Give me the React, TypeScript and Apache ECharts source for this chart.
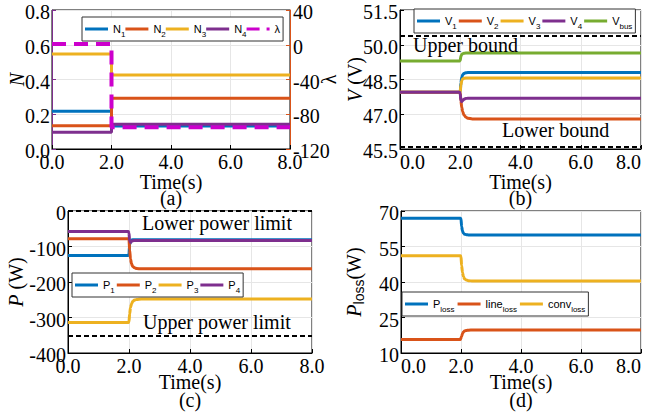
import React, { useEffect, useRef } from "react";
import * as echarts from "echarts";

// ---------- data ----------
// (a) normalized values N and lambda (step at t = 2 s)
const tA = [0, 2, 2, 8];
const n1 = [0.217, 0.217, 0.132, 0.132];
const n2 = [0.134, 0.134, 0.292, 0.292];
const n3 = [0.547, 0.547, 0.426, 0.426];
const n4 = [0.096, 0.096, 0.142, 0.142];
const lam = [1, 1, -95, -95];

// transient time base for (b), (c), (d)
const tT = [0, 1.98, 2.0, 2.02, 2.05, 2.08, 2.12, 2.18, 2.25, 2.4, 2.6, 8];

// (b) voltages
const v1 = [47.95, 47.95, 47.97, 48.35, 48.6, 48.7, 48.76, 48.79, 48.8, 48.8, 48.8, 48.8];
const v2 = [47.95, 47.95, 47.93, 47.6, 47.3, 47.12, 46.98, 46.88, 46.83, 46.8, 46.79, 46.79];
const v3 = [47.95, 47.95, 47.97, 48.25, 48.45, 48.52, 48.55, 48.56, 48.57, 48.57, 48.57, 48.57];
const v4 = [47.95, 47.95, 47.88, 47.6, 47.55, 47.6, 47.65, 47.68, 47.69, 47.69, 47.69, 47.69];
const vbus = [49.3, 49.3, 49.32, 49.5, 49.58, 49.61, 49.63, 49.64, 49.64, 49.64, 49.64, 49.64];
const vBounds = [50.4, 45.6];

// (c) powers
const p1 = [-125, -125, -120, -95, -86, -82, -81, -81, -81, -81, -81, -81];
const p2 = [-78, -78, -80, -110, -135, -148, -156, -160, -162, -163, -163, -163];
const p3 = [-314, -314, -312, -290, -272, -262, -255, -251, -249, -248, -248, -248];
const p4 = [-58, -58, -62, -84, -88, -86, -84, -83, -83, -83, -83, -83];
const pLimits = [0, -350];

// (d) losses
const pLoss = [66.9, 66.9, 66.7, 63.5, 61.5, 60.6, 60.2, 60.0, 59.9, 59.9, 59.9, 59.9];
const lineLoss = [15.7, 15.7, 15.8, 17.0, 18.2, 18.9, 19.3, 19.55, 19.65, 19.7, 19.7, 19.7];
const convLoss = [51.1, 51.1, 50.8, 47.0, 44.0, 42.3, 41.3, 40.8, 40.55, 40.4, 40.4, 40.4];

// axes
const xTicks = { min: 0, max: 8, interval: 2 };
const nAxis = { min: 0, max: 0.8, interval: 0.2 };
const lamAxis = { min: -120, max: 40, interval: 40 };
const vAxis = { base: 45.5, span: 6, interval: 1.5 };
const pAxis = { min: -400, max: 0, interval: 100 };
const lossAxis = { base: 10, span: 60, interval: 15 };

const panelLabels = ["(a)", "(b)", "(c)", "(d)"];
const annotations = ["Upper bound", "Lower bound", "Lower power limit", "Upper power limit"];

// ---------- layout / style ----------
const GRIDS = [
  { left: 52, top: 10, width: 238, height: 139 },
  { left: 400, top: 10, width: 241, height: 139 },
  { left: 68, top: 211, width: 244, height: 142 },
  { left: 401, top: 211, width: 240, height: 142 },
];
const F = '20px "Liberation Serif"';
const FI = 'italic 20px "Liberation Serif"';
const FSUB = '14px "Liberation Sans"';
const sans = "Liberation Sans";

const C = {
  blue: "#0072BD",
  orange: "#D95319",
  yellow: "#EDB120",
  purple: "#7E2F8E",
  green: "#77AC30",
  magenta: "#CC00CC",
};

const legendLabels: Record<string, string> = {
  N1: "{b|N}{s|1}",
  N2: "{b|N}{s|2}",
  N3: "{b|N}{s|3}",
  N4: "{b|N}{s|4}",
  "λ": "{b|λ}",
  V1: "{b|V}{s|1}",
  V2: "{b|V}{s|2}",
  V3: "{b|V}{s|3}",
  V4: "{b|V}{s|4}",
  Vbus: "{b|V}{s|bus}",
  P1: "{b|P}{s|1}",
  P2: "{b|P}{s|2}",
  P3: "{b|P}{s|3}",
  P4: "{b|P}{s|4}",
  Ploss: "{b|P}{s|loss}",
  lineloss: "{b|line}{s|loss}",
  convloss: "{b|conv}{s|loss}",
};

const LINE_ICON = "path://M0,0h23v3h-23z";
const DASH_ICON = "path://M0,0h13v3h-13z M20,0h3v3h-3z";

const legendText = {
  fontFamily: sans,
  fontSize: 11,
  color: "#000",
  rich: {
    b: { fontFamily: sans, fontSize: 11, lineHeight: 12, color: "#000" },
    s: { fontFamily: sans, fontSize: 8, lineHeight: 8, padding: [10, 0, 0, 0], color: "#000" },
  },
};

function legend(names: string[], left: number, top: number, itemGap: number) {
  return {
    show: true,
    selectedMode: false,
    left,
    top,
    orient: "horizontal",
    itemWidth: 23,
    itemHeight: 3,
    itemGap,
    padding: [3, 3, 3, 3],
    borderColor: "#333",
    borderWidth: 1,
    borderRadius: 0,
    backgroundColor: "#fff",
    data: names.map((n) => ({ name: n, icon: n === "λ" ? DASH_ICON : LINE_ICON })),
    formatter: (n: string) => legendLabels[n] || n,
    textStyle: legendText,
  };
}

function xAx(gridIndex: number) {
  return {
    type: "value",
    gridIndex,
    ...xTicks,
    axisLine: { show: true, onZero: false, lineStyle: { color: "#000", width: 1 } },
    axisTick: { show: true, inside: true, length: 4, lineStyle: { color: "#000" } },
    axisLabel: { show: false },
    splitLine: { show: true, lineStyle: { color: "#e6e6e6", width: 1 } },
  };
}

function yAx(gridIndex: number, range: any, opts: any = {}) {
  const color = opts.color || "#000";
  return {
    type: "value",
    gridIndex,
    min: range.min,
    max: range.max,
    interval: range.interval,
    position: opts.position || "left",
    axisLine: { show: true, onZero: false, lineStyle: { color, width: 1 } },
    axisTick: { show: true, inside: true, length: 4, lineStyle: { color } },
    axisLabel: { show: false },
    splitLine: { show: opts.split !== false, lineStyle: { color: "#e6e6e6", width: 1 } },
  };
}

function line(
  name: string,
  idx: number,
  yIdx: number,
  ts: number[],
  vs: number[],
  color: string,
  offset = 0,
  extra: any = {}
) {
  return {
    type: "line",
    name,
    xAxisIndex: idx,
    yAxisIndex: yIdx,
    data: ts.map((t, i) => [t, vs[i] - offset]),
    symbol: "none",
    showSymbol: false,
    smooth: extra.smooth ?? 0,
    smoothMonotone: "x",
    lineStyle: { color, width: extra.width || 3, type: extra.dash || "solid" },
    itemStyle: { color },
    color,
    silent: true,
    animation: false,
    markLine: extra.markLine,
  };
}

function bounds(values: number[], offset = 0) {
  return {
    silent: true,
    symbol: ["none", "none"],
    label: { show: false },
    lineStyle: { color: "#000", width: 2, type: [5, 3] },
    data: values.map((v) => ({ yAxis: v - offset })),
    animation: false,
  };
}

const vRange = { min: 0, max: vAxis.span, interval: vAxis.interval };
const lossRange = { min: 0, max: lossAxis.span, interval: lossAxis.interval };

const option: any = {
  animation: false,
  backgroundColor: "#fff",
  grid: GRIDS.map((g) => ({
    ...g,
    show: true,
    borderColor: "#000",
    borderWidth: 1,
    backgroundColor: "transparent",
    containLabel: false,
  })),
  xAxis: [xAx(0), xAx(1), xAx(2), xAx(3)],
  yAxis: [
    yAx(0, nAxis, { color: C.purple }),
    yAx(0, lamAxis, { color: C.orange, position: "right", split: false }),
    yAx(1, vRange),
    yAx(2, pAxis),
    yAx(3, lossRange),
  ],
  legend: [
    legend(["N1", "N2", "N3", "N4", "λ"], 82, 17, 0),
    legend(["V1", "V2", "V3", "V4", "Vbus"], 414, 9, 2),
    legend(["P1", "P2", "P3", "P4"], 72, 273, 2),
    legend(["Ploss", "lineloss", "convloss"], 402, 292, 3),
  ],
  series: [
    line("N1", 0, 0, tA, n1, C.blue),
    line("N2", 0, 0, tA, n2, C.orange),
    line("N3", 0, 0, tA, n3, C.yellow),
    line("N4", 0, 0, tA, n4, C.purple),
    line("λ", 0, 1, tA, lam, C.magenta, 0, { dash: [14, 8], width: 4 }),

    line("V1", 1, 2, tT, v1, C.blue, vAxis.base, { smooth: 0.3, markLine: bounds(vBounds, vAxis.base) }),
    line("V2", 1, 2, tT, v2, C.orange, vAxis.base, { smooth: 0.3 }),
    line("V3", 1, 2, tT, v3, C.yellow, vAxis.base, { smooth: 0.3 }),
    line("V4", 1, 2, tT, v4, C.purple, vAxis.base, { smooth: 0.3 }),
    line("Vbus", 1, 2, tT, vbus, C.green, vAxis.base, { smooth: 0.3 }),

    line("P1", 2, 3, tT, p1, C.blue, 0, { smooth: 0.3, markLine: bounds(pLimits) }),
    line("P2", 2, 3, tT, p2, C.orange, 0, { smooth: 0.3 }),
    line("P3", 2, 3, tT, p3, C.yellow, 0, { smooth: 0.3 }),
    line("P4", 2, 3, tT, p4, C.purple, 0, { smooth: 0.3 }),

    line("Ploss", 3, 4, tT, pLoss, C.blue, lossAxis.base, { smooth: 0.3 }),
    line("lineloss", 3, 4, tT, lineLoss, C.orange, lossAxis.base, { smooth: 0.3 }),
    line("convloss", 3, 4, tT, convLoss, C.yellow, lossAxis.base, { smooth: 0.3 }),
  ],
};

// ---------- serif texts, placed through the chart's own scales ----------
function ticksOf(r: { min: number; max: number; interval: number }) {
  const out: number[] = [];
  const n = Math.round((r.max - r.min) / r.interval);
  for (let k = 0; k <= n; k++) out.push(+(r.min + k * r.interval).toFixed(6));
  return out;
}

const RICH = {
  i: { font: FI, fill: "#000" },
  t: { font: F, fill: "#000" },
  s: { font: FSUB, fill: "#000", padding: [10, 0, 0, 0] },
};

function txt(text: string, x: number, y: number, align: string, va: string, extra: any = {}) {
  return {
    type: "text",
    x,
    y,
    z: 100,
    silent: true,
    rotation: extra.rotation || 0,
    style: {
      text,
      font: extra.font || F,
      fill: "#000",
      align,
      verticalAlign: va,
      rich: extra.rich,
    },
  };
}

function buildTexts(chart: any) {
  const out: any[] = [];
  // x tick labels + "Time(s)" + panel letter
  GRIDS.forEach((g, gi) => {
    const bottom = g.top + g.height;
    const xs = ticksOf(xTicks);
    xs.forEach((v, k) => {
      const px = chart.convertToPixel({ xAxisIndex: gi }, v);
      let align = "center";
      if (gi === 1 || gi === 3) {
        if (k === 0) align = "left";
        if (k === xs.length - 1) align = "right";
      }
      out.push(txt(v.toFixed(1), px, bottom + 3, align, "top"));
    });
    const cx = g.left + g.width / 2;
    const top = gi < 2;
    out.push(txt("Time(s)", cx, bottom + (top ? 33 : 29), "center", "middle"));
    out.push(txt(panelLabels[gi], cx, bottom + (top ? 49 : 47), "center", "middle"));
  });

  // y tick labels
  const ySpecs = [
    { yAxisIndex: 0, grid: 0, side: "left", range: nAxis, fmt: (v: number) => v.toFixed(1) },
    { yAxisIndex: 1, grid: 0, side: "right", range: lamAxis, fmt: (v: number) => String(v) },
    { yAxisIndex: 2, grid: 1, side: "left", range: vRange, fmt: (v: number) => (v + vAxis.base).toFixed(1) },
    { yAxisIndex: 3, grid: 2, side: "left", range: pAxis, fmt: (v: number) => String(v) },
    { yAxisIndex: 4, grid: 3, side: "left", range: lossRange, fmt: (v: number) => String(v + lossAxis.base) },
  ];
  ySpecs.forEach((s) => {
    const g = GRIDS[s.grid];
    ticksOf(s.range).forEach((v) => {
      const py = chart.convertToPixel({ yAxisIndex: s.yAxisIndex }, v);
      if (s.side === "left") out.push(txt(s.fmt(v), g.left - 2, py + 2, "right", "middle"));
      else out.push(txt(s.fmt(v), g.left + g.width + 3, py + 2, "left", "middle"));
    });
  });

  // y axis names (rotated)
  const yNames = [
    { grid: 0, x: 17, text: "{i|N}" },
    { grid: 0, x: 329, text: "{t|λ}" },
    { grid: 1, x: 355, text: "{i|V}{t| (V)}" },
    { grid: 2, x: 16, text: "{i|P}{t| (W)}" },
    { grid: 3, x: 354, text: "{i|P}{s|loss}{t|(W)}" },
  ];
  yNames.forEach((n) => {
    const g = GRIDS[n.grid];
    out.push(
      txt(n.text, n.x, g.top + g.height / 2, "center", "middle", { rotation: Math.PI / 2, rich: RICH })
    );
  });

  // annotations
  const annPos = [
    [413, 45],
    [502, 130],
    [142, 223],
    [143, 322],
  ];
  annotations.forEach((a, k) => out.push(txt(a, annPos[k][0], annPos[k][1], "left", "middle")));
  return out;
}

export default function App() {
  const ref = useRef<HTMLDivElement>(null);
  useEffect(() => {
    if (!ref.current) return;
    const chart = echarts.init(ref.current, null, { renderer: "svg" });
    chart.setOption(option);
    chart.setOption({ graphic: buildTexts(chart) });
    return () => chart.dispose();
  }, []);
  return (
    <div
      ref={ref}
      style={{ position: "fixed", left: 0, top: 0, width: 649, height: 416, background: "#fff" }}
    />
  );
}
